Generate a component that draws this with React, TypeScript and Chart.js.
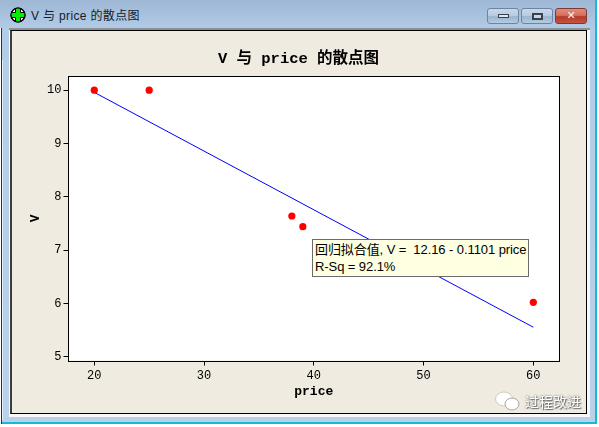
import React, { useEffect, useRef } from "react";
import { Chart, registerables } from "chart.js";

Chart.register(...registerables);

const priceValues = [20, 25, 38, 39, 60];
const vValues = [10, 10, 7.64, 7.44, 6.02];
const fitPrice = [20, 60];
const fitV = [9.958, 5.554];
const xTicks = [20, 30, 40, 50, 60];
const yTicks = [5, 6, 7, 8, 9, 10];
const chartTitle = "V 与 price 的散点图";
const xTitle = "price";
const yTitle = "V";
const windowTitle = "V 与 price 的散点图";
const noteLines = ["回归拟合值, V =  12.16 - 0.1101 price", "R-Sq = 92.1%"];
const watermark = "过程改进";

const MONO = '"Liberation Mono", "Noto Sans CJK SC", monospace';
const SANS = '"Liberation Sans", "Noto Sans CJK SC", sans-serif';

const plotBg = {
  id: "plotBg",
  afterLayout(c: any) {
    // centre the chart title on the whole window, not just the padded box
    if (c.titleBlock) {
      c.titleBlock.left = 0;
      c.titleBlock.right = 597;
    }
  },
  beforeDraw(c: any) {
    const { ctx, chartArea: a } = c;
    ctx.save();
    ctx.fillStyle = "#ffffff";
    ctx.fillRect(a.left, a.top, a.width, a.height);
    ctx.restore();
  },
  afterDraw(c: any) {
    const { ctx, chartArea: a } = c;
    ctx.save();
    ctx.strokeStyle = "#000000";
    ctx.lineWidth = 1;
    ctx.strokeRect(
      Math.floor(a.left) + 0.5,
      Math.floor(a.top) + 0.5,
      Math.round(a.width),
      Math.round(a.height)
    );
    ctx.restore();
  },
};

function Btn({ left, width, red, children }: any) {
  return (
    <div
      style={{
        position: "absolute",
        left,
        top: 8,
        width,
        height: 16,
        boxSizing: "border-box",
        borderRadius: 3,
        border: red ? "1px solid #7c3a34" : "1px solid #6f84a0",
        background: red
          ? "linear-gradient(#e08b7c 0%, #d8705f 45%, #b53a28 55%, #c5533f 100%)"
          : "linear-gradient(#c6d8ea 0%, #b9cde2 45%, #9bb5cf 55%, #b4cce2 100%)",
        display: "flex",
        alignItems: "center",
        justifyContent: "center",
      }}
    >
      {children}
    </div>
  );
}

export default function App() {
  const ref = useRef<HTMLCanvasElement>(null);

  useEffect(() => {
    document.body.style.margin = "0";
    const chart = new Chart(ref.current as HTMLCanvasElement, {
      type: "scatter",
      data: {
        datasets: [
          {
            label: "fit",
            type: "line",
            data: fitPrice.map((x, i) => ({ x, y: fitV[i] })),
            borderColor: "#0000ff",
            borderWidth: 1,
            pointRadius: 0,
            tension: 0,
            order: 2,
          },
          {
            label: "points",
            data: priceValues.map((x, i) => ({ x, y: vValues[i] })),
            backgroundColor: "#ff0000",
            borderColor: "#ff0000",
            pointRadius: 3.6,
            pointBorderWidth: 0,
            order: 1,
          },
        ],
      },
      options: {
        responsive: false,
        animation: false,
        layout: { padding: { top: 0, right: 40, left: 0, bottom: 0 } },
        plugins: {
          legend: { display: false },
          tooltip: { enabled: false },
          title: {
            display: true,
            text: chartTitle,
            color: "#000000",
            font: { family: MONO, size: 15.5, weight: "bold" },
            padding: { top: 50, bottom: 7.4 },
          },
        },
        scales: {
          x: {
            type: "linear",
            min: 17.65,
            max: 62.34,
            afterFit: (s: any) => {
              s.height = 66.5;
            },
            afterBuildTicks: (s: any) => {
              s.ticks = xTicks.map((value) => ({ value }));
            },
            grid: { display: true, drawOnChartArea: false, drawTicks: true, color: "#000000", tickColor: "#000000", tickLength: 5 },
            border: { display: false },
            ticks: { color: "#000000", font: { family: MONO, size: 12 }, padding: 3, maxRotation: 0 },
            title: {
              display: true,
              text: xTitle,
              color: "#000000",
              font: { family: MONO, size: 13, weight: "bold" },
              padding: { top: 3, bottom: 27 },
            },
          },
          y: {
            type: "linear",
            min: 4.93,
            max: 10.265,
            afterFit: (s: any) => {
              s.width = 68.5;
            },
            afterBuildTicks: (s: any) => {
              s.ticks = yTicks.map((value) => ({ value }));
            },
            grid: { display: true, drawOnChartArea: false, drawTicks: true, color: "#000000", tickColor: "#000000", tickLength: 5 },
            border: { display: false },
            ticks: { color: "#000000", font: { family: MONO, size: 12 }, padding: 2 },
            title: {
              display: true,
              text: yTitle,
              color: "#000000",
              font: { family: MONO, size: 13, weight: "bold" },
              padding: { top: 28, bottom: 0 },
            },
          },
        },
      } as any,
      plugins: [plotBg],
    });
    return () => chart.destroy();
  }, []);

  return (
    <div style={{ position: "relative", width: 599, height: 427, overflow: "hidden", background: "#ffffff" }}>
      {/* window frame */}
      <div
        style={{
          position: "absolute",
          left: 0,
          top: 0,
          width: 597,
          height: 424,
          boxSizing: "border-box",
          borderRight: "2px solid #19b9d6",
          borderBottom: "2px solid #19b9d6",
          background: "linear-gradient(#9db7d4 0px, #b3cde8 30px, #b9d1ea 100%)",
        }}
      />
      <div style={{ position: "absolute", left: 1, top: 28, width: 1, height: 396, background: "#26323f" }} />
      <div style={{ position: "absolute", left: 0, top: 28, width: 1, height: 399, background: "#ffffff" }} />
      <div style={{ position: "absolute", left: 2, top: 60, width: 1, height: 360, background: "#e8eef6" }} />
      {/* title bar */}
      <svg style={{ position: "absolute", left: 10, top: 7 }} width={16} height={16} viewBox="0 0 16 16">
        <circle cx="8" cy="8" r="7" fill="#ffffff" stroke="#000" strokeWidth="1.2" />
        <path d="M5.5 1h5v4.5H15v5h-4.5V15h-5v-4.5H1v-5h4.5z" fill="#00f000" />
        <path d="M5.5 1.2v4.3H1.2M10.5 1.2v4.3h4.3M1.2 10.5h4.3v4.3M14.8 10.5h-4.3v4.3" fill="none" stroke="#000" strokeWidth="1" />
        <circle cx="8" cy="8" r="7" fill="none" stroke="#000" strokeWidth="1.2" />
      </svg>
      <div
        style={{
          position: "absolute",
          left: 31,
          top: 8,
          fontFamily: SANS,
          fontSize: 12,
          letterSpacing: 0.35,
          lineHeight: "16px",
          color: "#10202f",
          whiteSpace: "pre",
        }}
      >
        {windowTitle}
      </div>
      <Btn left={487} width={32}>
        <div style={{ width: 9, height: 2, background: "#dfe6ee", border: "1px solid #39424c" }} />
      </Btn>
      <Btn left={521} width={32}>
        <div style={{ width: 7, height: 3, border: "2px solid #39424c", background: "#c7d5e4" }} />
      </Btn>
      <Btn left={555} width={32} red>
        <div style={{ color: "#f4f4f4", fontFamily: "DejaVu Sans", fontWeight: "bold", fontSize: 11, lineHeight: "14px" }}>
          ✕
        </div>
      </Btn>
      {/* client area */}
      <div style={{ position: "absolute", left: 9, top: 28, width: 581, height: 389, background: "#f7f8fa", borderTop: "2px solid #8c8f94", boxSizing: "border-box" }} />
      <div
        style={{
          position: "absolute",
          left: 10,
          top: 30,
          width: 577,
          height: 384,
          boxSizing: "border-box",
          background: "#f0ebe0",
          borderTop: "1px solid #000",
          borderRight: "1px solid #000",
          borderBottom: "1px solid #000",
          borderLeft: "2px solid #3c3c3c",
        }}
      />
      <canvas ref={ref} width={599} height={427} style={{ position: "absolute", left: 0, top: 0, display: "block" }} />
      {/* regression note */}
      <div
        style={{
          position: "absolute",
          left: 312,
          top: 239,
          width: 217,
          height: 38,
          boxSizing: "border-box",
          background: "#ffffe1",
          border: "1px solid #6b6b6b",
          padding: "1px 0 0 2px",
          fontFamily: SANS,
          fontSize: 13,
          letterSpacing: -0.08,
          lineHeight: "17px",
          color: "#000",
          whiteSpace: "pre",
        }}
      >
        {noteLines.map((t) => (
          <div key={t}>{t}</div>
        ))}
      </div>
      {/* watermark */}
      <svg style={{ position: "absolute", left: 495, top: 391 }} width={25} height={20} viewBox="0 0 25 20">
        <ellipse cx="9" cy="8" rx="8.5" ry="7" fill="#fff" stroke="#cfcabd" />
        <ellipse cx="17" cy="13" rx="7" ry="6" fill="#fff" stroke="#a9a69e" />
      </svg>
      <div
        style={{
          position: "absolute",
          left: 525,
          top: 392,
          fontFamily: '"Noto Sans CJK SC", sans-serif',
          fontSize: 14,
          lineHeight: "18px",
          color: "#ffffff",
          textShadow: "0 0 2px #555, 1px 1px 1px #777",
          whiteSpace: "pre",
        }}
      >
        {watermark}
      </div>
    </div>
  );
}
